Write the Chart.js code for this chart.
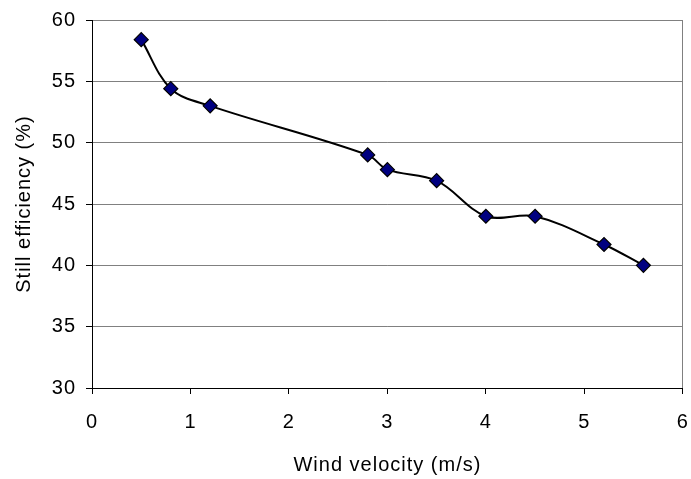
<!DOCTYPE html>
<html>
<head>
<meta charset="utf-8">
<script src="https://cdn.jsdelivr.net/npm/chart.js@4/dist/chart.umd.min.js"></script>
<style>
  html, body { margin: 0; padding: 0; background: #fff; }
  #wrap { width: 691px; height: 479px; }
</style>
</head>
<body>
<div id="wrap"><canvas id="c" width="691" height="479"></canvas></div>
<script>
// Wind velocity (m/s)
const windVelocity = [0.5, 0.8, 1.2, 2.8, 3.0, 3.5, 4.0, 4.5, 5.2, 5.6];
// Still efficiency (%)
const stillEfficiency = [58.4, 54.4, 53.0, 49.0, 47.8, 46.9, 44.0, 44.0, 41.7, 40.0];

const xTicks = [0, 1, 2, 3, 4, 5, 6];
const yTicks = [30, 35, 40, 45, 50, 55, 60];

const FONT = 'Liberation Sans, Arial, sans-serif';

const spacingPlugin = {
  id: 'spacing',
  beforeDraw(chart) { chart.ctx.letterSpacing = '1px'; }
};

new Chart(document.getElementById('c'), {
  type: 'scatter',
  data: {
    datasets: [{
      data: windVelocity.map((x, i) => ({ x, y: stillEfficiency[i] })),
      showLine: true,
      tension: 0.35,
      borderColor: '#000000',
      borderWidth: 2,
      pointStyle: 'rectRot',
      pointRadius: 7,
      pointHoverRadius: 7,
      pointBackgroundColor: '#000080',
      pointBorderColor: '#000000',
      pointBorderWidth: 1.2
    }]
  },
  plugins: [spacingPlugin],
  options: {
    responsive: false,
    animation: false,
    events: [],
    layout: { padding: { left: 0, right: 7, top: 20, bottom: 0 } },
    plugins: { legend: { display: false }, tooltip: { enabled: false } },
    scales: {
      x: {
        type: 'linear',
        min: xTicks[0],
        max: xTicks[xTicks.length - 1],
        afterBuildTicks(scale) { scale.ticks = xTicks.map(v => ({ value: v })); },
        afterFit(scale) {
          scale.height = 91;
          scale.paddingLeft = 0;
          scale.paddingRight = 0;
        },
        ticks: { color: '#000', font: { family: FONT, size: 20 }, padding: 16, maxRotation: 0 },
        grid: {
          color: (c) => c.index === xTicks.length - 1 ? '#808080' : 'rgba(0,0,0,0)',
          tickColor: '#000',
          tickLength: 6,
          lineWidth: 1
        },
        border: { color: '#000', width: 1 },
        title: {
          display: true,
          text: 'Wind velocity (m/s)',
          color: '#000',
          font: { family: FONT, size: 20 },
          padding: { top: 0, bottom: 2 }
        }
      },
      y: {
        type: 'linear',
        min: yTicks[0],
        max: yTicks[yTicks.length - 1],
        afterBuildTicks(scale) { scale.ticks = yTicks.map(v => ({ value: v })); },
        afterFit(scale) {
          scale.width = 92;
          scale.paddingTop = 0;
          scale.paddingBottom = 0;
        },
        ticks: { color: '#000', font: { family: FONT, size: 20 }, padding: 10 },
        grid: { color: '#808080', tickColor: '#000', tickLength: 6, lineWidth: 1 },
        border: { color: '#000', width: 1 },
        title: {
          display: true,
          text: 'Still efficiency (%)',
          color: '#000',
          font: { family: FONT, size: 20 },
          padding: { top: 12, bottom: 0 }
        }
      }
    }
  }
});
</script>
</body>
</html>
